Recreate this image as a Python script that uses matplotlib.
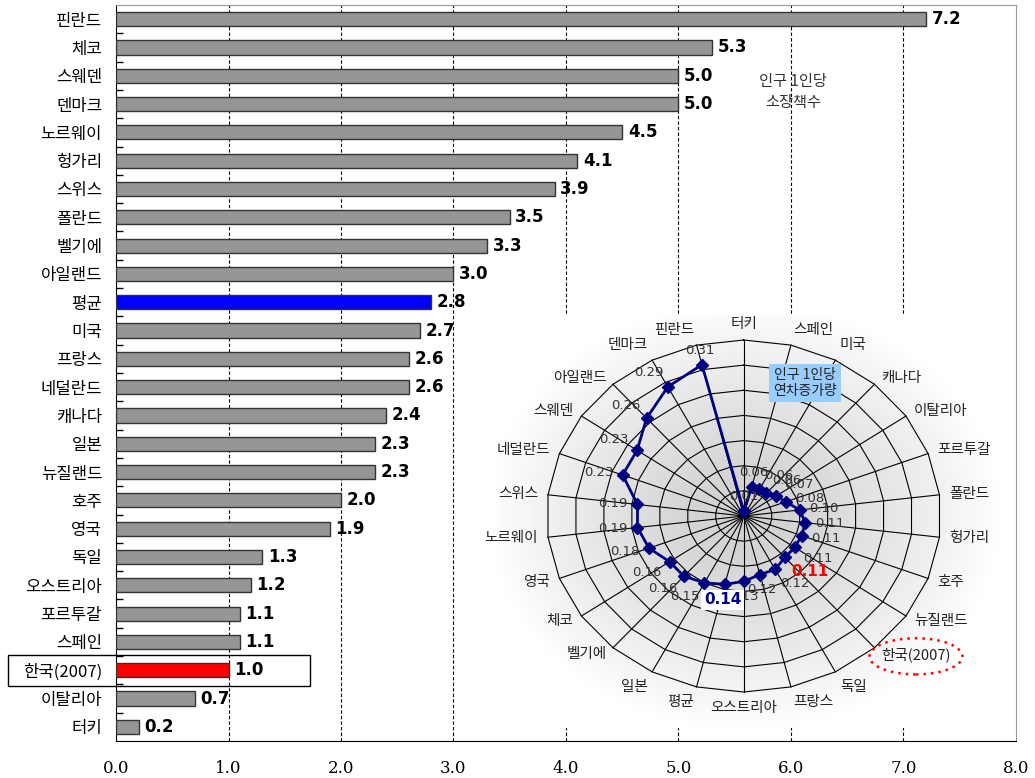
import matplotlib
matplotlib.use("Agg")
import matplotlib.pyplot as plt
import matplotlib.transforms as mtransforms
from matplotlib.patches import Rectangle, Ellipse
import numpy as np

plt.rcParams['font.family'] = ['Noto Sans CJK KR', 'DejaVu Sans']

# 인구 1인당 소장책수 (막대)
bar_names = ["핀란드", "체코", "스웨덴", "덴마크", "노르웨이", "헝가리", "스위스", "폴란드",
             "벨기에", "아일랜드", "평균", "미국", "프랑스", "네덜란드", "캐나다", "일본",
             "뉴질랜드", "호주", "영국", "독일", "오스트리아", "포르투갈", "스페인",
             "한국(2007)", "이탈리아", "터키"]
bar_values = [7.2, 5.3, 5.0, 5.0, 4.5, 4.1, 3.9, 3.5, 3.3, 3.0, 2.8, 2.7, 2.6, 2.6,
              2.4, 2.3, 2.3, 2.0, 1.9, 1.3, 1.2, 1.1, 1.1, 1.0, 0.7, 0.2]
x_ticks = [0, 1, 2, 3, 4, 5, 6, 7, 8]

# 인구 1인당 연차증가량 (방사형), 위쪽부터 시계방향
radar_names = ["터키", "스페인", "미국", "캐나다", "이탈리아", "포르투갈", "폴란드", "헝가리",
               "호주", "뉴질랜드", "한국(2007)", "독일", "프랑스", "오스트리아", "평균", "일본",
               "벨기에", "체코", "영국", "노르웨이", "스위스", "네덜란드", "스웨덴", "아일랜드",
               "덴마크", "핀란드"]
radar_values = [0.01, 0.06, 0.06, 0.06, 0.07, 0.08, 0.10, 0.11, 0.11, 0.11, 0.11, 0.12,
                0.12, 0.13, 0.14, 0.15, 0.16, 0.16, 0.18, 0.19, 0.19, 0.23, 0.23, 0.26,
                0.29, 0.31]
radar_rings = [0.05, 0.10, 0.15, 0.20, 0.25, 0.30, 0.35]

fig = plt.figure(figsize=(10.35, 7.78), dpi=100)

# ---- bar chart ----
ax = fig.add_axes([0.1121, 0.0476, 0.8695, 0.946])
ypos = np.arange(len(bar_names))
colors = []
for name in bar_names:
    if name == "평균":
        colors.append("#0000ff")
    elif name.startswith("한국"):
        colors.append("#ff0000")
    else:
        colors.append("#969696")
ax.barh(ypos, bar_values, height=0.5, color=colors, edgecolor="#333333", linewidth=1, zorder=3)
for y, v in zip(ypos, bar_values):
    ax.text(v + 0.05, y, f"{v:.1f}", va="center", ha="left", fontsize=12,
            fontweight="bold", family="DejaVu Sans", zorder=4)

ax.set_xlim(0, 8)
ax.set_ylim(len(bar_names) - 0.5, -0.5)
ax.set_xticks(x_ticks)
ax.set_xticklabels([f"{t:.1f}" for t in x_ticks], family="DejaVu Serif", fontsize=12)
ax.tick_params(axis="x", length=0, pad=14)
ax.set_yticks(ypos)
ax.set_yticklabels(bar_names, fontsize=12)
ax.tick_params(axis="y", length=0, pad=10)
ax.set_yticks(np.arange(len(bar_names) - 1) + 0.5, minor=True)
ax.tick_params(axis="y", which="minor", direction="in", length=5, width=1)
for gx in x_ticks[1:-1]:
    ax.axvline(gx, color="black", linestyle=(0, (3, 2)), linewidth=0.8, zorder=1)
ax.spines["top"].set_color("#999999")
ax.spines["right"].set_color("#999999")

ax.text(0.752, 0.882, "인구 1인당\n소장책수", transform=ax.transAxes, ha="center", va="center",
        fontsize=11, color="#333333", linespacing=1.3)

# box around 한국 row label
k = bar_names.index("한국(2007)")
trans = mtransforms.blended_transform_factory(fig.transFigure, ax.transData)
fig.patches.append(Rectangle((0.008, k - 0.55), 0.292, 1.1, transform=trans, fill=False,
                             edgecolor="black", linewidth=1))

# ---- radar inset ----
rax = fig.add_axes([0.478, 0.0643, 0.5024, 0.531])
xl = (-0.442, 0.481)
yl = (-0.4215, 0.40)
gx, gy = np.meshgrid(np.linspace(xl[0], xl[1], 300), np.linspace(yl[0], yl[1], 300))
dist = np.sqrt((gx / 0.46) ** 2 + (gy / 0.43) ** 2)
shade = 0.81 + 0.19 * np.clip(dist, 0, 1) ** 1.3
rax.imshow(shade, extent=(xl[0], xl[1], yl[0], yl[1]), origin="lower", cmap="gray",
           vmin=0, vmax=1, aspect="auto", zorder=0)

n = len(radar_names)
theta = np.arange(n) * 2 * np.pi / n
st, ct = np.sin(theta), np.cos(theta)
for r in radar_rings:
    rax.plot(np.append(r * st, r * st[0]), np.append(r * ct, r * ct[0]),
             color="black", linewidth=0.8, zorder=1)
rmax = radar_rings[-1]
for s, c in zip(st, ct):
    rax.plot([0, rmax * s], [0, rmax * c], color="black", linewidth=0.8, zorder=1)

vals = np.array(radar_values)
rax.plot(np.append(vals * st, vals[0] * st[0]), np.append(vals * ct, vals[0] * ct[0]),
         color="#000080", linewidth=2, marker="D", markersize=6, zorder=3)

for name, v, s, c in zip(radar_names, radar_values, st, ct):
    # category label
    ha = "left" if s > 0.15 else ("right" if s < -0.15 else "center")
    va = "bottom" if c > 0.75 else ("top" if c < -0.75 else "center")
    lx, ly = 1.05 * rmax * s, 1.05 * rmax * c
    rax.text(lx, ly, name, ha=ha, va=va, fontsize=10.5, color="#222222", zorder=4)
    if name.startswith("한국"):
        rax.add_patch(Ellipse((lx + 0.062, ly - 0.004), 0.165, 0.072, fill=False,
                              edgecolor="red", linestyle=(0, (1, 2)), linewidth=1.8, zorder=4))
    # value label
    vha = "left" if s > 0.4 else ("right" if s < -0.4 else "center")
    vva = "bottom" if c > 0.5 else ("top" if c < -0.5 else "center")
    kw = dict(fontsize=9.5, color="#333333", family="DejaVu Sans")
    if name == "평균":
        kw = dict(fontsize=11, color="#000080", fontweight="bold", family="DejaVu Sans",
                  bbox=dict(facecolor="white", edgecolor="none", pad=2))
    elif name.startswith("한국"):
        kw = dict(fontsize=11, color="red", fontweight="bold", family="DejaVu Sans")
    rax.annotate(f"{v:.2f}", (v * s, v * c), xytext=(7 * s, 6 * c), textcoords="offset points",
                 ha=vha, va=vva, zorder=5, **kw)

rax.text(0.596, 0.835, "인구 1인당\n연차증가량", transform=rax.transAxes, ha="center",
         va="center", fontsize=10, color="#222222", linespacing=1.2, zorder=5,
         bbox=dict(facecolor="#99ccff", edgecolor="none", pad=3))

rax.set_xlim(*xl)
rax.set_ylim(*yl)
rax.axis("off")

fig.savefig("out.png", dpi=100)
